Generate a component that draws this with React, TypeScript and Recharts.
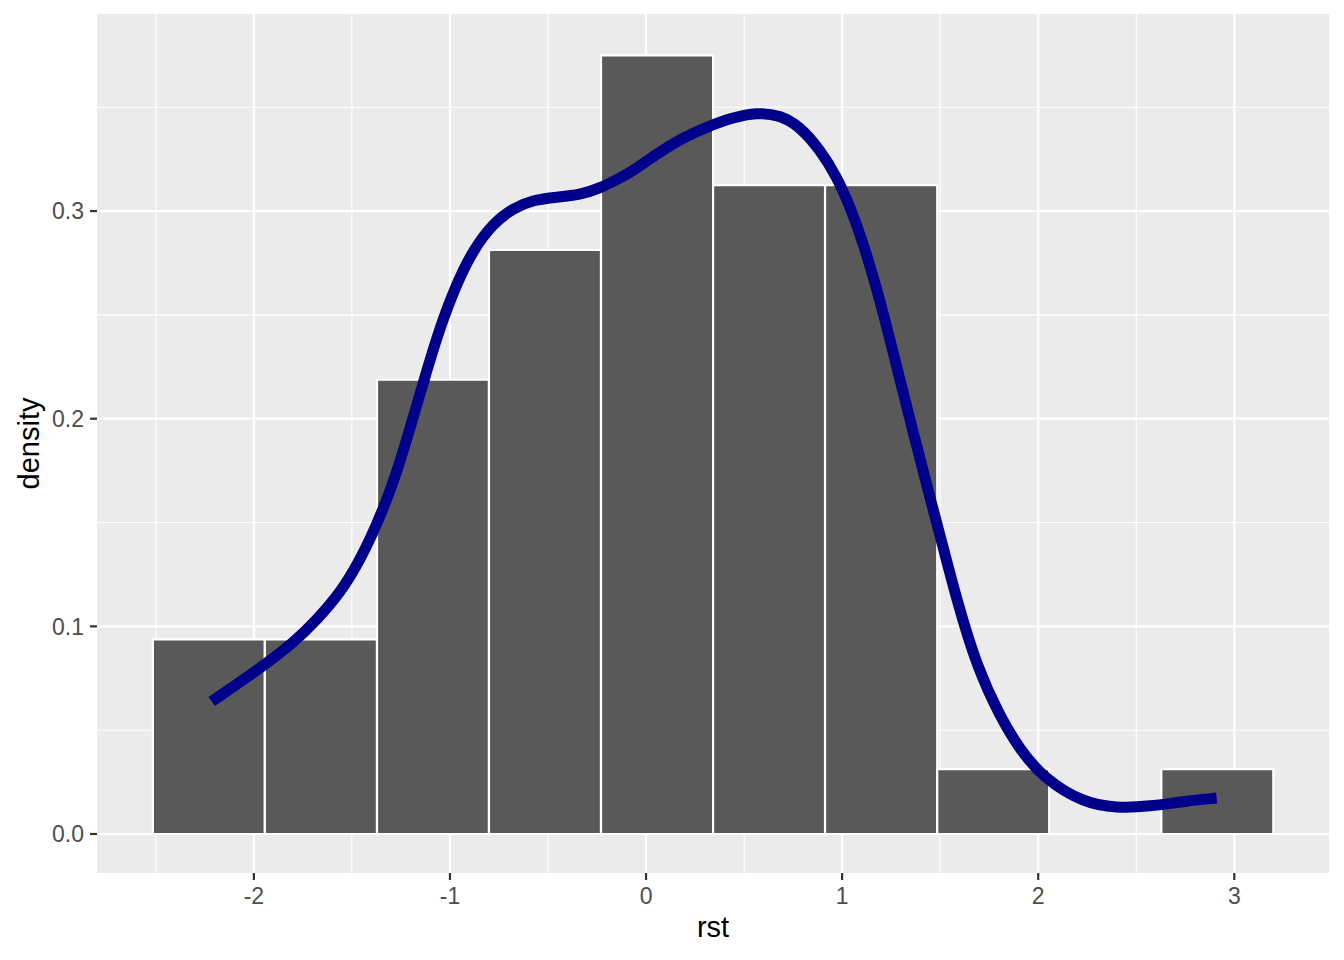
import React from 'react';
import { ComposedChart, Line, XAxis, YAxis, CartesianGrid, ReferenceArea } from 'recharts';

const binStart = [-2.515, -1.944, -1.372, -0.801, -0.2296, 0.342, 0.913, 1.485, 2.056, 2.628];
const binEnd = [-1.944, -1.372, -0.801, -0.2296, 0.342, 0.913, 1.485, 2.056, 2.628, 3.199];
const binDensity = [0.09375, 0.09375, 0.21875, 0.28125, 0.375, 0.3125, 0.3125, 0.03125, 0, 0.03125];

const curveX = [-2.215, -1.943, -1.799, -1.679, -1.56, -1.458, -1.373, -1.289, -1.22, -1.136, -1.05, -0.965, -0.881, -0.779, -0.677, -0.575, -0.455, -0.337, -0.235, -0.133, -0.065, 0.055, 0.18, 0.31, 0.44, 0.566, 0.683, 0.785, 0.887, 0.972, 1.04, 1.108, 1.193, 1.278, 1.363, 1.448, 1.499, 1.584, 1.686, 1.805, 1.907, 2.026, 2.23, 2.4, 2.57, 2.74, 2.91];
const curveY = [0.0638, 0.0815, 0.092, 0.1032, 0.116, 0.132, 0.149, 0.169, 0.19, 0.2175, 0.2444, 0.2653, 0.2814, 0.2942, 0.3014, 0.3054, 0.3067, 0.3078, 0.311, 0.3159, 0.3195, 0.3275, 0.335, 0.3405, 0.345, 0.3475, 0.3462, 0.3407, 0.3295, 0.3167, 0.3022, 0.2846, 0.2573, 0.2252, 0.1931, 0.162, 0.144, 0.1128, 0.0807, 0.0566, 0.0406, 0.027, 0.0149, 0.0125, 0.0133, 0.0157, 0.0173];

const xTicks = [-2, -1, 0, 1, 2, 3];
const yTicks = [0, 0.1, 0.2, 0.3];
const xMinor = [-2.5, -1.5, -0.5, 0.5, 1.5, 2.5];
const yMinor = [0.05, 0.15, 0.25, 0.35];

const curveData = curveX.map((x, i) => ({ x, y: curveY[i] }));

const FONT = '"Liberation Sans", Arial, Helvetica, sans-serif';

const YLabel = (props: any) => {
  const vb = props.viewBox || {};
  const cx = vb.x + 29;
  const cy = vb.y + vb.height / 2;
  return (
    <text x={cx} y={cy} transform={`rotate(-90, ${cx}, ${cy})`} textAnchor="middle" dominantBaseline="central"
      fill="#000" fontSize={29} fontFamily={FONT}>density</text>
  );
};

export default function App() {
  return (
    <div style={{ position: 'absolute', left: 0, top: 0, width: 1344, height: 960, background: '#fff' }}>
      <ComposedChart width={1344} height={960} data={curveData} margin={{ top: 14, right: 15, left: 0, bottom: 0 }}>
        <CartesianGrid fill="#EBEBEB" stroke="#FFFFFF" strokeWidth={1.1} horizontalValues={yMinor} verticalValues={xMinor} />
        <CartesianGrid fill="none" stroke="#FFFFFF" strokeWidth={2.2} horizontalValues={yTicks} verticalValues={xTicks} />
        <XAxis dataKey="x" type="number" domain={[-2.8, 3.483]} ticks={xTicks} allowDataOverflow
          height={87} tickSize={7} tickMargin={8} axisLine={false}
          tickLine={{ stroke: '#333333', strokeWidth: 2.2 }}
          tick={{ fill: '#4D4D4D', fontSize: 23, fontFamily: FONT }}
          label={{ value: 'rst', position: 'insideBottom', offset: 23, fill: '#000', fontSize: 29, fontFamily: FONT }} />
        <YAxis type="number" domain={[-0.01878, 0.3949]} ticks={yTicks} allowDataOverflow
          width={97} tickSize={7} tickMargin={6} axisLine={false}
          tickLine={{ stroke: '#333333', strokeWidth: 2.2 }}
          tickFormatter={(v: number) => v.toFixed(1)}
          tick={{ fill: '#4D4D4D', fontSize: 23, fontFamily: FONT }}
          label={<YLabel />} />
        {binStart.map((s, i) => (
          <ReferenceArea key={i} x1={s} x2={binEnd[i]} y1={0} y2={binDensity[i]}
            fill="#595959" fillOpacity={1} stroke="#FFFFFF" strokeWidth={2.2} ifOverflow="visible" />
        ))}
        <Line dataKey="y" type="basis" stroke="#00008B" strokeWidth={11} dot={false} activeDot={false}
          strokeLinecap="butt" isAnimationActive={false} />
      </ComposedChart>
    </div>
  );
}
